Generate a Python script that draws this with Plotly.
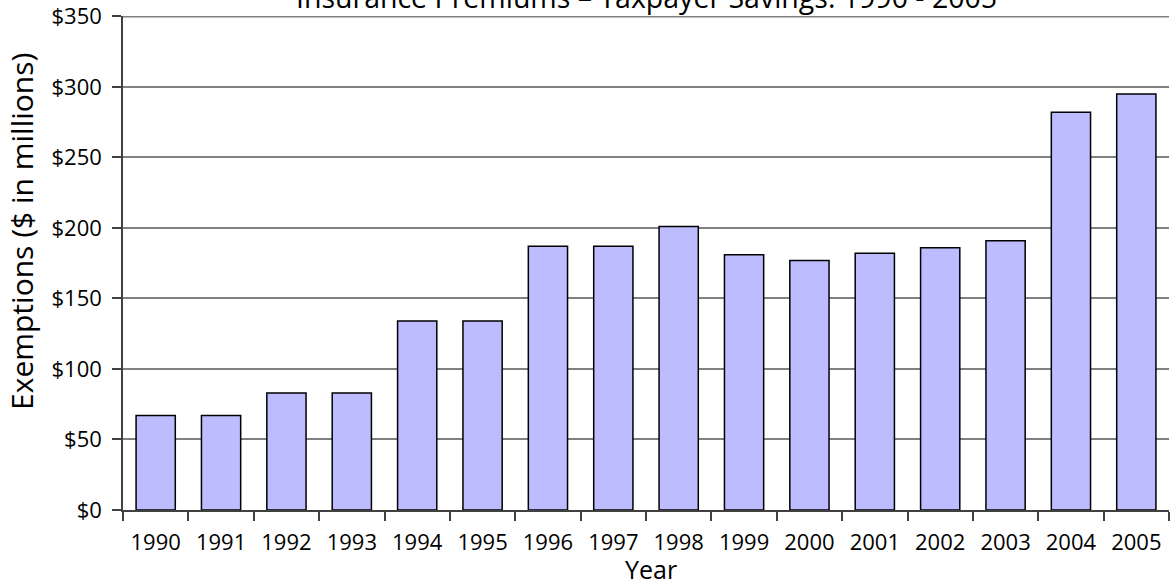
import plotly.graph_objects as go

years = ["1990", "1991", "1992", "1993", "1994", "1995", "1996", "1997",
         "1998", "1999", "2000", "2001", "2002", "2003", "2004", "2005"]
exemptions = [67, 67, 83, 83, 134, 134, 187, 187,
              201, 181, 177, 182, 186, 191, 282, 295]
y_ticks = [0, 50, 100, 150, 200, 250, 300, 350]
y_tick_labels = ["$0", "$50", "$100", "$150", "$200", "$250", "$300", "$350"]

FONT = "Open Sans"
GRID = "#808080"

fig = go.Figure()
fig.add_trace(go.Bar(
    x=years, y=exemptions,
    marker=dict(
        color="white",
        line=dict(color="black", width=1.5),
        pattern=dict(shape=".", size=2, solidity=0.5, fgcolor="#6666ff", bgcolor="white", fillmode="replace"),
    ),
    width=0.6,
))

fig.update_layout(
    width=1170, height=582,
    margin=dict(l=123, r=1, t=16, b=72),
    paper_bgcolor="white", plot_bgcolor="white",
    showlegend=False,
    font=dict(family=FONT, size=22, color="black"),
    shapes=[dict(
        type="line", xref="paper", yref="y", x0=0, x1=1,
        y0=y_ticks[-1], y1=y_ticks[-1], layer="above",
        line=dict(color=GRID, width=2),
    )],
    annotations=[
        dict(
            text="Insurance Premiums – Taxpayer Savings: 1990 - 2005",
            xref="paper", yref="paper", x=0.5, y=1, yshift=-2,
            xanchor="center", yanchor="bottom", showarrow=False,
            font=dict(family=FONT, size=28.5, color="black"),
        ),
        dict(
            text="Exemptions ($ in millions)", textangle=-90,
            xref="paper", yref="paper", x=0, y=0.5628, xshift=-101,
            xanchor="center", yanchor="middle", showarrow=False,
            font=dict(family=FONT, size=30, color="black"),
        ),
        dict(
            text="Year",
            xref="paper", yref="paper", x=0.5, y=0, xshift=5, yshift=-59,
            xanchor="center", yanchor="middle", showarrow=False,
            font=dict(family=FONT, size=25, color="black"),
        ),
    ],
)
fig.update_xaxes(
    showline=True, linecolor="#404040", linewidth=1.5,
    ticks="outside", ticklen=9, tickcolor="#404040", tickwidth=1.5,
    ticklabelstandoff=12,
    tickson="boundaries", showgrid=False, automargin=False,
)
fig.update_yaxes(
    range=[0, 350.3], tickvals=y_ticks, ticktext=y_tick_labels,
    showline=True, linecolor="#404040", linewidth=1.5,
    ticks="outside", ticklen=9, tickcolor="#404040", tickwidth=1.5,
    ticklabelstandoff=6, ticklabeloverflow="allow", automargin=False,
    showgrid=True, gridcolor=GRID, gridwidth=1.5, zeroline=False,
)

fig.write_html(
    "out.html",
    config={"displayModeBar": False},
    post_script="document.body.style.margin='0';document.body.style.overflow='hidden';",
)
